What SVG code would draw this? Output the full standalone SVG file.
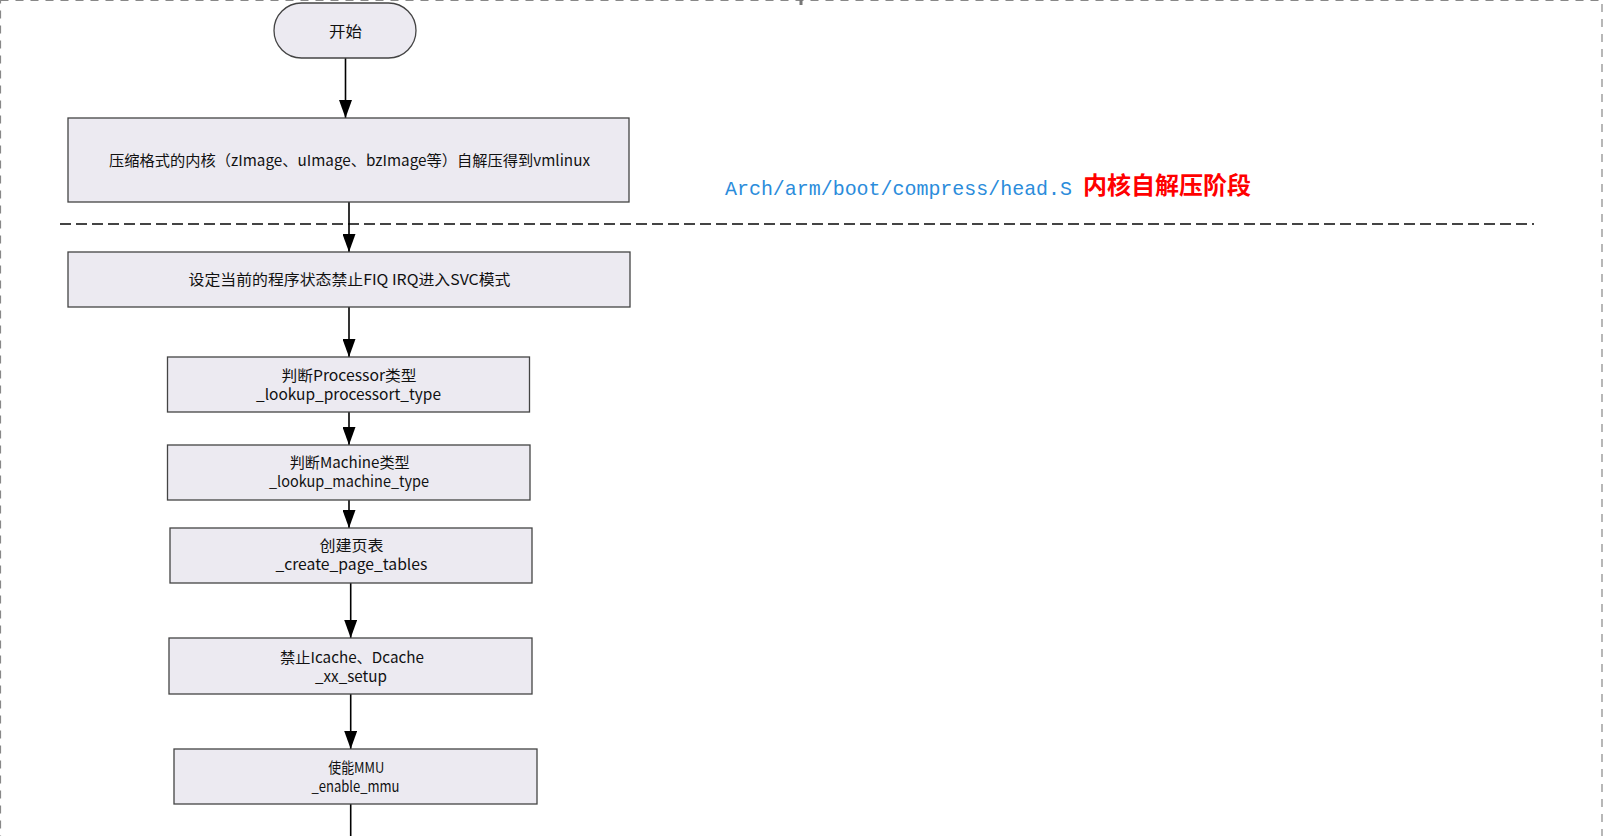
<svg xmlns="http://www.w3.org/2000/svg" width="1603" height="836" viewBox="0 0 1603 836">
<defs>
<marker id="arr" markerUnits="userSpaceOnUse" markerWidth="18" markerHeight="13" refX="18" refY="6.5" viewBox="0 0 18 13" orient="auto">
<path d="M0,0 L18,6.5 L0,13 Z" fill="#000"/>
</marker>
<style>
.box{fill:#ECEAF1;stroke:#444;stroke-width:1.3}
.t{font-family:"Noto Sans CJK SC","Noto Sans",sans-serif;font-size:15px;fill:#111;text-anchor:middle}
.c{stroke:#000;stroke-width:1.6;fill:none}
</style>
</defs>
<rect width="1603" height="836" fill="#fff"/>
<rect x="0.5" y="0.5" width="1601.5" height="860" fill="none" stroke="#888" stroke-width="1.2" stroke-dasharray="8 7"/>
<line x1="801" y1="0" x2="801" y2="5" stroke="#777" stroke-width="3"/>
<line x1="60" y1="224" x2="1534" y2="224" stroke="#444" stroke-width="2.2" stroke-dasharray="11 5"/>
<g id="connectors">
<line class="c" x1="345.5" y1="58" x2="345.5" y2="118" marker-end="url(#arr)"/>
<line class="c" x1="349" y1="202" x2="349" y2="252" marker-end="url(#arr)"/>
<line class="c" x1="349" y1="307" x2="349" y2="357" marker-end="url(#arr)"/>
<line class="c" x1="349" y1="412" x2="349" y2="445" marker-end="url(#arr)"/>
<line class="c" x1="349" y1="500" x2="349" y2="528" marker-end="url(#arr)"/>
<line class="c" x1="350.7" y1="583" x2="350.7" y2="638" marker-end="url(#arr)"/>
<line class="c" x1="350.7" y1="694" x2="350.7" y2="749" marker-end="url(#arr)"/>
<line class="c" x1="350.7" y1="804" x2="350.7" y2="836"/>
</g>
<g id="start">
<rect class="box" x="274" y="3" width="142" height="55" rx="27.5" ry="27.5"/>
<text class="t" x="345.5" y="37" textLength="33" lengthAdjust="spacingAndGlyphs">开始</text>
</g>
<g id="n1">
<rect class="box" x="68" y="118" width="561" height="84"/>
<text class="t" x="349.5" y="166" textLength="481" lengthAdjust="spacingAndGlyphs">压缩格式的内核（zImage、uImage、bzImage等）自解压得到vmlinux</text>
</g>
<g id="n2">
<rect class="box" x="68" y="252" width="562" height="55"/>
<text class="t" x="349.5" y="285" textLength="322" lengthAdjust="spacingAndGlyphs">设定当前的程序状态禁止FIQ IRQ进入SVC模式</text>
</g>
<g id="n3">
<rect class="box" x="167.5" y="357" width="362" height="55"/>
<text class="t" x="349" y="381" textLength="135" lengthAdjust="spacingAndGlyphs">判断Processor类型</text>
<text class="t" x="348.5" y="400" textLength="185" lengthAdjust="spacingAndGlyphs">_lookup_processort_type</text>
</g>
<g id="n4">
<rect class="box" x="167.5" y="445" width="362.5" height="55"/>
<text class="t" x="349.7" y="468" textLength="120" lengthAdjust="spacingAndGlyphs">判断Machine类型</text>
<text class="t" x="349" y="487" textLength="160" lengthAdjust="spacingAndGlyphs">_lookup_machine_type</text>
</g>
<g id="n5">
<rect class="box" x="170" y="528" width="362" height="55"/>
<text class="t" x="351.4" y="551" textLength="64" lengthAdjust="spacingAndGlyphs">创建页表</text>
<text class="t" x="351.4" y="570" textLength="152" lengthAdjust="spacingAndGlyphs">_create_page_tables</text>
</g>
<g id="n6">
<rect class="box" x="169" y="638" width="363" height="56"/>
<text class="t" x="352" y="663" textLength="144" lengthAdjust="spacingAndGlyphs">禁止Icache、Dcache</text>
<text class="t" x="351" y="682" textLength="72" lengthAdjust="spacingAndGlyphs">_xx_setup</text>
</g>
<g id="n7">
<rect class="box" x="174" y="749" width="363" height="55"/>
<text class="t" x="356.3" y="773" textLength="56" lengthAdjust="spacingAndGlyphs">使能MMU</text>
<text class="t" x="355.5" y="792" textLength="88" lengthAdjust="spacingAndGlyphs">_enable_mmu</text>
</g>
<g id="stage-label">
<text x="725" y="195" font-family="Liberation Mono, monospace" font-size="21" fill="#2B8CDB" textLength="347" lengthAdjust="spacingAndGlyphs">Arch/arm/boot/compress/head.S</text>
<text x="1083" y="194" font-family="Noto Sans CJK SC, sans-serif" font-size="24" font-weight="bold" fill="#FF0000" textLength="168" lengthAdjust="spacingAndGlyphs">内核自解压阶段</text>
</g>
</svg>
